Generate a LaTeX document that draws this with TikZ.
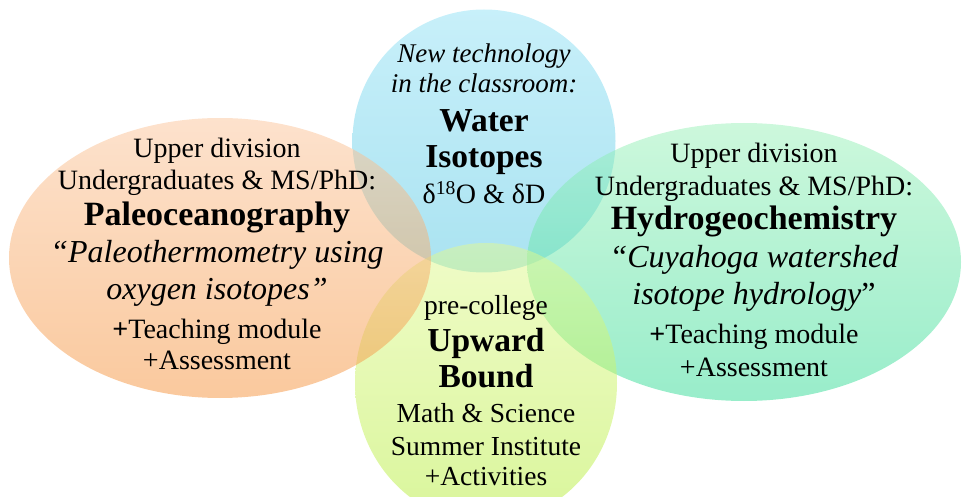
\documentclass[tikz,border=0pt]{standalone}
\usepackage{fontspec}
\setmainfont{Liberation Serif}
\begin{document}
\begin{tikzpicture}[x=1pt,y=-1pt,
  blob/.style={fill opacity=0.5, draw=none},
  txt/.style={anchor=base, inner sep=0pt, text=black},
  reg/.style={txt, font=\fontsize{28}{32}\selectfont},
  sml/.style={txt, font=\fontsize{27.5}{32}\selectfont},
  hdr/.style={txt, font=\fontsize{34}{38}\selectfont\bfseries},
  hdrs/.style={txt, font=\fontsize{33.5}{38}\selectfont\bfseries},
  quo/.style={txt, font=\fontsize{32}{36}\selectfont\itshape},
  tag/.style={txt, font=\fontsize{27}{32}\selectfont\itshape}]

% canvas
\useasboundingbox (0,0) rectangle (962,497);

% overlapping ellipses, drawn from back to front
\path[blob, top color={rgb,255:red,145;green,225;blue,245},
      bottom color={rgb,255:red,85;green,199;blue,227}]
  (484,141) ellipse [x radius=131.5, y radius=131.5];
\path[blob, top color={rgb,255:red,155;green,241;blue,185},
      bottom color={rgb,255:red,50;green,219;blue,150}]
  (744,262) ellipse [x radius=217, y radius=139];
\path[blob, top color={rgb,255:red,225;green,249;blue,145},
      bottom color={rgb,255:red,180;green,237;blue,55}]
  (486,383) ellipse [x radius=131, y radius=140];
\path[blob, top color={rgb,255:red,251;green,197;blue,155},
      bottom color={rgb,255:red,245;green,147;blue,60}]
  (220,258) ellipse [x radius=211, y radius=140];

% water isotopes
\node[tag]  (b1) at (484,63)  {New technology};
\node[tag]  (b2) at (484,93)  {in the classroom:};
\node[hdrs] (b3) at (484,132) {Water};
\node[hdrs] (b4) at (484,168) {Isotopes};
\node[reg]  (b5) at (484,204) {δ\textsuperscript{18}O \& δD};

% paleoceanography
\node[reg] (o1) at (217,158) {Upper division};
\node[reg] (o2) at (217,190) {Undergraduates \& MS/PhD:};
\node[hdr] (o3) at (217,226) {Paleoceanography};
\node[quo] (o4) at (217,263) {“Paleothermometry using};
\node[quo] (o5) at (217,300) {oxygen isotopes”};
\node[reg] (o6) at (217,338) {{\bfseries +}Teaching module};
\node[reg] (o7) at (217,370) {+Assessment};

% hydrogeochemistry
\node[reg] (g1) at (754,163) {Upper division};
\node[reg] (g2) at (754,196) {Undergraduates \& MS/PhD:};
\node[hdr] (g3) at (754,230) {Hydrogeochemistry};
\node[quo] (g4) at (754,268) {“Cuyahoga watershed};
\node[quo] (g5) at (754,305) {isotope hydrology\upshape”};
\node[reg] (g6) at (754,344) {{\bfseries +}Teaching module};
\node[reg] (g7) at (754,376) {+Assessment};

% upward bound
\node[sml]  (y1) at (486,315) {pre-college};
\node[hdrs] (y2) at (486,352) {Upward};
\node[hdrs] (y3) at (486,388) {Bound};
\node[sml]  (y4) at (486,422) {Math \& Science};
\node[sml]  (y5) at (486,455) {Summer Institute};
\node[sml]  (y6) at (486,485) {+Activities};
\end{tikzpicture}
\end{document}
